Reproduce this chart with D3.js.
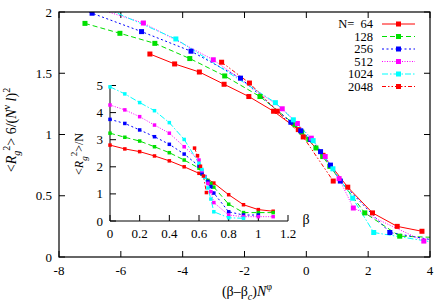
<!DOCTYPE html>
<html>
<head>
<meta charset="utf-8">
<script src="https://cdn.jsdelivr.net/npm/d3@7"></script>
<style>
  body { margin: 0; background: #fff; }
  svg { display: block; }
</style>
</head>
<body>
<div id="chart"></div>
<script>
// series: chain length N
const sizes = ["64", "128", "256", "512", "1024", "2048"];
const colors = ["#ff0000", "#00e000", "#0000ff", "#ff00ff", "#00ffff", "#ff0000"];
const dashes = [null, "5,3", "2,2.5", "1,1.5", "6,2,1.5,2", "4,2,1.5,2,1.5,2"];

// main panel: [(β-βc)N^φ, <Rg²>6/(N^ν l)²]
const main64 = [[-5.06,1.657],[-4.26,1.576],[-3.46,1.51],[-2.66,1.41],[-1.86,1.31],[-1.06,1.19],
  [-0.26,1.04],[0.54,0.83],[1.34,0.57],[2.14,0.36],[2.94,0.25],[3.74,0.21]];
const main128 = [[-7.16,1.907],[-6.03,1.826],[-4.90,1.744],[-3.77,1.62],[-2.64,1.478],[-1.50,1.31],
  [-0.37,1.08],[-0.15,1.02],[0.08,0.96],[0.31,0.89],[0.53,0.82],[0.76,0.74],[1.89,0.36],[3.02,0.17],[4.15,0.16]];
const main256 = [[-8.53,2.13],[-6.93,1.99],[-5.33,1.84],[-3.73,1.68],[-2.13,1.46],[-0.50,1.10],
  [-0.18,1.03],[0.14,0.96],[0.46,0.86],[0.78,0.75],[1.10,0.62],[2.70,0.20],[4.30,0.13]];
const main512 = [[-7.53,2.09],[-5.27,1.91],[-3.01,1.61],[-0.78,1.21],[-0.29,1.09],[0.16,0.97],
  [0.61,0.82],[1.06,0.64],[1.52,0.40],[3.80,0.13]];
const main1024 = [[-7.46,2.14],[-4.22,1.78],[-1.00,1.26],[-0.42,1.12],[0.22,0.95],[0.86,0.72],
  [1.50,0.48],[2.18,0.20],[5.34,0.07]];
const main2048 = [[-2.74,1.59],[-1.84,1.42],[-0.94,1.19],[-0.10,0.98],[0.87,0.62]];

// inset: [β, <Rg²>/N]
const inset64 = [[0,2.80],[0.1,2.66],[0.2,2.56],[0.3,2.40],[0.4,2.22],[0.5,2.00],[0.6,1.76],
  [0.7,1.40],[0.8,0.97],[0.9,0.60],[1.0,0.42],[1.1,0.36]];
const inset128 = [[0,3.24],[0.1,3.09],[0.2,2.95],[0.3,2.74],[0.4,2.52],[0.5,2.25],[0.6,1.95],
  [0.62,1.73],[0.64,1.62],[0.66,1.50],[0.68,1.39],[0.7,1.25],[0.8,0.62],[0.9,0.31],[1.0,0.31],[1.1,0.31]];
const inset256 = [[0,3.75],[0.1,3.60],[0.2,3.36],[0.3,3.11],[0.4,2.83],[0.5,2.47],[0.6,2.03],
  [0.62,1.75],[0.64,1.62],[0.66,1.46],[0.68,1.27],[0.7,1.03],[0.8,0.34],[0.9,0.22],[1.0,0.22]];
const inset512 = [[0,4.28],[0.1,4.10],[0.2,3.85],[0.3,3.54],[0.4,3.24],[0.5,2.74],[0.6,2.25],
  [0.62,1.85],[0.64,1.64],[0.66,1.39],[0.68,1.08],[0.7,0.68],[0.8,0.22],[0.9,0.16],[1.0,0.16],[1.1,0.16]];
const inset1024 = [[0,4.95],[0.1,4.69],[0.2,4.37],[0.3,4.07],[0.4,3.63],[0.5,3.01],[0.6,2.13],
  [0.62,1.90],[0.64,1.61],[0.66,1.22],[0.68,0.81],[0.7,0.34],[0.8,0.12],[0.9,0.10]];
const inset2048 = [[0.57,2.69],[0.59,2.41],[0.61,2.02],[0.63,1.66],[0.65,1.05]];

const mainSeries = [main64, main128, main256, main512, main1024, main2048];
const insetSeries = [inset64, inset128, inset256, inset512, inset1024, inset2048];

const mainXTicks = [-8, -6, -4, -2, 0, 2, 4];
const mainYTicks = [0, 0.5, 1, 1.5, 2];
const insetXTicks = [0, 0.2, 0.4, 0.6, 0.8, 1, 1.2];
const insetYTicks = [0, 1, 2, 3, 4, 5];

const W = 436, H = 306;
const svg = d3.select("#chart").append("svg").attr("width", W).attr("height", H)
  .attr("font-family", "'Liberation Serif', 'DejaVu Serif', serif");

const fmt = v => String(v);

// rich text helper (sub / superscripts via dy)
function rich(sel, parts) {
  let cur = 0;
  parts.forEach(p => {
    const off = p.shift === "sub" ? 4 : p.shift === "sup" ? -6 : 0;
    const t = sel.append("tspan").attr("dy", off - cur).text(p.t);
    if (p.italic) t.attr("font-style", "italic");
    if (p.size) t.attr("font-size", p.size);
    cur = off;
  });
}

// ---------- main panel ----------
const x = d3.scaleLinear().domain([-8, 4]).range([59, 430]);
const y = d3.scaleLinear().domain([0, 2]).range([257, 12]);

svg.append("clipPath").attr("id", "clipMain")
  .append("rect").attr("x", 59).attr("y", 12).attr("width", 371).attr("height", 245);

const tick = 6;
const gAx = svg.append("g").attr("stroke", "#000").attr("stroke-width", 1);
mainXTicks.forEach(t => {
  gAx.append("line").attr("x1", x(t)).attr("x2", x(t)).attr("y1", y(0)).attr("y2", y(0) - tick);
  gAx.append("line").attr("x1", x(t)).attr("x2", x(t)).attr("y1", y(2)).attr("y2", y(2) + tick);
});
mainYTicks.forEach(t => {
  gAx.append("line").attr("x1", x(-8)).attr("x2", x(-8) + tick).attr("y1", y(t)).attr("y2", y(t));
  gAx.append("line").attr("x1", x(4)).attr("x2", x(4) - tick).attr("y1", y(t)).attr("y2", y(t));
});

svg.append("g").selectAll("text").data(mainXTicks).join("text")
  .attr("x", d => x(d)).attr("y", 275).attr("text-anchor", "middle")
  .attr("font-size", 13).text(fmt);
svg.append("g").selectAll("text").data(mainYTicks).join("text")
  .attr("x", 52).attr("y", d => y(d) + 4.5).attr("text-anchor", "end")
  .attr("font-size", 13).text(fmt);

const line = d3.line().x(d => x(d[0])).y(d => y(d[1]));
const plotMain = svg.append("g").attr("clip-path", "url(#clipMain)");
mainSeries.forEach((data, i) => {
  plotMain.append("path").attr("d", line(data)).attr("fill", "none")
    .attr("stroke", colors[i]).attr("stroke-width", 1)
    .attr("stroke-dasharray", dashes[i]);
});
mainSeries.forEach((data, i) => {
  plotMain.selectAll(null).data(data).join("rect")
    .attr("x", d => x(d[0]) - 2.5).attr("y", d => y(d[1]) - 2.5)
    .attr("width", 5).attr("height", 5).attr("fill", colors[i]);
});

svg.append("rect").attr("x", 59).attr("y", 12).attr("width", 371).attr("height", 245)
  .attr("fill", "none").attr("stroke", "#000").attr("stroke-width", 1.2);

// axis titles
const yt = svg.append("text").attr("font-size", 14).attr("text-anchor", "middle")
  .attr("transform", "translate(16,130) rotate(-90)");
rich(yt, [{t: "<"}, {t: "R", italic: true}, {t: "g", italic: true, shift: "sub", size: 10},
  {t: "2", shift: "sup", size: 10}, {t: "> 6/("}, {t: "N", italic: true},
  {t: "ν", shift: "sup", size: 10}, {t: " l", italic: true}, {t: ")"}, {t: "2", shift: "sup", size: 10}]);

const xt = svg.append("text").attr("font-size", 14).attr("text-anchor", "middle")
  .attr("x", 247).attr("y", 296);
rich(xt, [{t: "(β–β"}, {t: "c", italic: true, shift: "sub", size: 10}, {t: ")"},
  {t: "N", italic: true}, {t: "φ", shift: "sup", size: 10}]);

// legend
const leg = svg.append("g");
sizes.forEach((n, i) => {
  const ly = 24 + i * 12.5;
  leg.append("text").attr("x", 373).attr("y", ly + 4).attr("text-anchor", "end")
    .attr("font-size", 12.5).attr("xml:space", "preserve").text(i === 0 ? "N=  " + n : n);
  leg.append("line").attr("x1", 382).attr("x2", 415).attr("y1", ly).attr("y2", ly)
    .attr("stroke", colors[i]).attr("stroke-width", 1).attr("stroke-dasharray", dashes[i]);
  leg.append("rect").attr("x", 396).attr("y", ly - 2.5).attr("width", 5).attr("height", 5)
    .attr("fill", colors[i]);
});

// ---------- inset ----------
const xi = d3.scaleLinear().domain([0, 1.2]).range([110, 288]);
const yi = d3.scaleLinear().domain([0, 5]).range([221, 85.5]);

const gIn = svg.append("g").attr("stroke", "#000").attr("stroke-width", 1);
gIn.append("line").attr("x1", xi(0)).attr("x2", xi(1.2)).attr("y1", yi(0)).attr("y2", yi(0));
gIn.append("line").attr("x1", xi(0)).attr("x2", xi(0)).attr("y1", yi(0)).attr("y2", yi(5));
insetXTicks.forEach(t => {
  gIn.append("line").attr("x1", xi(t)).attr("x2", xi(t)).attr("y1", yi(0)).attr("y2", yi(0) - 6);
});
insetYTicks.forEach(t => {
  gIn.append("line").attr("x1", xi(0)).attr("x2", xi(0) + 6).attr("y1", yi(t)).attr("y2", yi(t));
});

svg.append("g").selectAll("text").data(insetXTicks).join("text")
  .attr("x", d => xi(d)).attr("y", 238).attr("text-anchor", "middle")
  .attr("font-size", 13).text(fmt);
svg.append("g").selectAll("text").data(insetYTicks).join("text")
  .attr("x", 103).attr("y", d => yi(d) + 4.5).attr("text-anchor", "end")
  .attr("font-size", 13).text(fmt);

svg.append("text").attr("x", 306).attr("y", 224).attr("text-anchor", "middle")
  .attr("font-size", 14).text("β");

const yti = svg.append("text").attr("font-size", 12).attr("text-anchor", "middle")
  .attr("transform", "translate(83,154) rotate(-90)");
rich(yti, [{t: "<"}, {t: "R", italic: true}, {t: "g", italic: true, shift: "sub", size: 9},
  {t: "2", shift: "sup", size: 9}, {t: ">/N"}]);

const linei = d3.line().x(d => xi(d[0])).y(d => yi(d[1]));
insetSeries.forEach((data, i) => {
  svg.append("path").attr("d", linei(data)).attr("fill", "none")
    .attr("stroke", colors[i]).attr("stroke-width", 1)
    .attr("stroke-dasharray", dashes[i]);
});
insetSeries.forEach((data, i) => {
  svg.append("g").selectAll("rect").data(data).join("rect")
    .attr("x", d => xi(d[0]) - 1.75).attr("y", d => yi(d[1]) - 1.75)
    .attr("width", 3.5).attr("height", 3.5).attr("fill", colors[i]);
});
</script>
</body>
</html>
